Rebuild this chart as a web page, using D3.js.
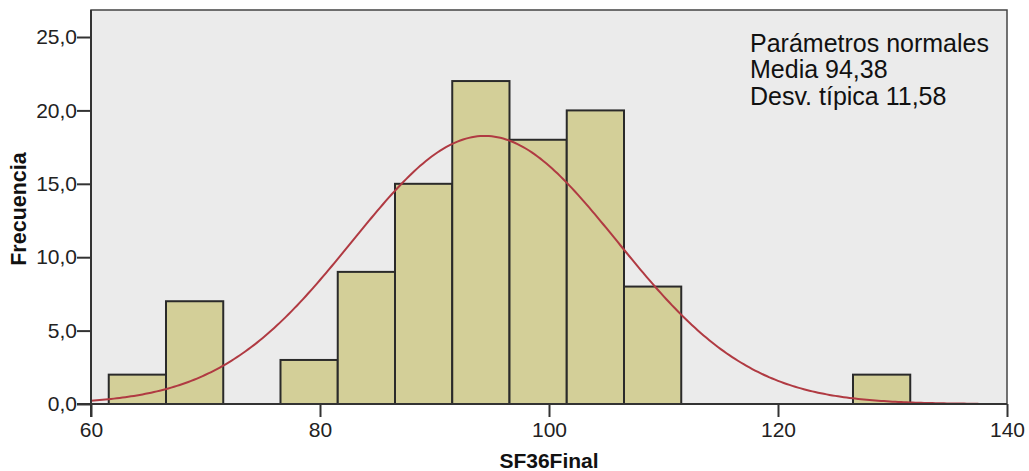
<!DOCTYPE html>
<html><head><meta charset="utf-8">
<script src="https://cdn.jsdelivr.net/npm/d3@7"></script>
<style>body{margin:0;background:#fff;} svg{display:block;font-family:"Liberation Sans",Arial,sans-serif;}</style>
</head><body>
<svg id="c" width="1029" height="471"></svg>
<script>
const binStarts = [61.55, 66.55, 71.55, 76.55, 81.55, 86.55, 91.55, 96.55, 101.55, 106.55, 111.55, 116.55, 121.55, 126.55];
const counts    = [2, 7, 0, 3, 9, 15, 22, 18, 20, 8, 0, 0, 0, 2];
const binWidth = 5;
const mean = 94.38, sd = 11.58;
const xTicks = [60, 80, 100, 120, 140];
const yTicks = [0, 5, 10, 15, 20, 25];
const legendLines = ["Parámetros normales", "Media 94,38", "Desv. típica 11,58"];

const svg = d3.select("#c");
const L = 91, R = 1007, T = 10, B = 404;
const x = d3.scaleLinear().domain([60, 140]).range([L, R]);
const y = d3.scaleLinear().domain([0, 26.84]).range([B, T]);
const FF = "Liberation Sans, Arial, sans-serif";

svg.append("rect").attr("x", L).attr("y", T).attr("width", R - L).attr("height", B - T)
  .attr("fill", "#ebebeb").attr("stroke", "#444").attr("stroke-width", 1.5);

const bins = binStarts.map((s, i) => ({s, c: counts[i]})).filter(d => d.c > 0);
svg.append("g").selectAll("rect").data(bins).join("rect")
  .attr("x", d => x(d.s)).attr("width", d => x(d.s + binWidth) - x(d.s))
  .attr("y", d => y(d.c)).attr("height", d => y(0) - y(d.c))
  .attr("fill", "#d3cf98").attr("stroke", "#2a2a2a").attr("stroke-width", 2);

const N = d3.sum(counts);
const pdf = v => N * binWidth / (sd * Math.sqrt(2 * Math.PI)) * Math.exp(-0.5 * ((v - mean) / sd) ** 2);
const curveX = d3.range(60, 137.6, 0.25);
svg.append("path").datum(curveX)
  .attr("d", d3.line().x(v => x(v)).y(v => y(pdf(v))))
  .attr("fill", "none").attr("stroke", "#b03a42").attr("stroke-width", 2);

const xa = svg.append("g").attr("transform", `translate(0,${B})`)
  .call(d3.axisBottom(x).tickValues(xTicks).tickSize(13).tickPadding(5).tickFormat(d3.format("d")));
xa.select(".domain").remove();
xa.selectAll("line").attr("stroke", "#333").attr("stroke-width", 2);
xa.selectAll("text").attr("font-size", 21).attr("fill", "#222").attr("font-family", FF);
svg.append("line").attr("x1", L - 14).attr("x2", R).attr("y1", B).attr("y2", B).attr("stroke", "#333").attr("stroke-width", 2);

const ya = svg.append("g").attr("transform", `translate(${L},0)`)
  .call(d3.axisLeft(y).tickValues(yTicks).tickSize(14).tickPadding(0).tickFormat(d => d3.format(".1f")(d).replace(".", ",")));
ya.select(".domain").remove();
ya.selectAll("line").attr("stroke", "#333").attr("stroke-width", 2);
ya.selectAll("text").attr("font-size", 21).attr("fill", "#222").attr("font-family", FF);
svg.append("line").attr("x1", L).attr("x2", L).attr("y1", T).attr("y2", B + 13).attr("stroke", "#333").attr("stroke-width", 2);

svg.append("text").attr("x", 549).attr("y", 468).attr("text-anchor", "middle")
  .attr("font-size", 21).attr("font-weight", "bold").attr("fill", "#111").text("SF36Final");
svg.append("text").attr("transform", "translate(26,209) rotate(-90)").attr("text-anchor", "middle")
  .attr("font-size", 21.5).attr("font-weight", "bold").attr("fill", "#111").text("Frecuencia");

svg.append("g").selectAll("text").data(legendLines).join("text")
  .attr("x", 750).attr("y", (d, i) => 52 + i * 26.3)
  .attr("font-size", 25).attr("fill", "#111").text(d => d);
</script>
</body></html>
